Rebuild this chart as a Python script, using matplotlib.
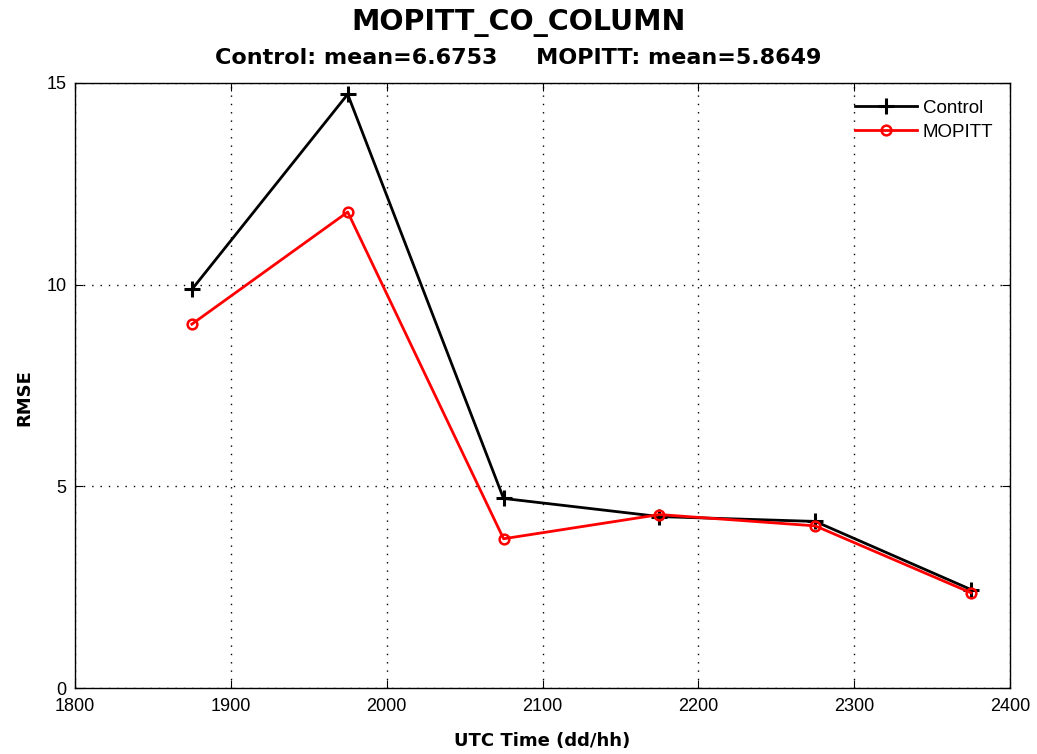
import matplotlib
matplotlib.use("Agg")
import matplotlib.pyplot as plt

# hours (ddhh) and RMSE values
times = [1875, 1975, 2075, 2175, 2275, 2375]
control = [9.88, 14.72, 4.70, 4.25, 4.13, 2.44]
mopitt = [9.02, 11.80, 3.70, 4.30, 4.02, 2.36]
control_mean = 6.6753
mopitt_mean = 5.8649

plt.rcParams['font.family'] = ['Liberation Sans', 'DejaVu Sans']

fig = plt.figure(figsize=(10.37, 7.54), dpi=100)
ax = fig.add_axes([0.0723, 0.0875, 0.9017, 0.8025])

ax.plot(times, control, color='black', lw=2, marker='+', ms=11, mew=2.2,
        label='Control')
ax.plot(times, mopitt, color='red', lw=2, marker='o', ms=7, mew=1.8,
        mfc='none', label='MOPITT')

ax.set_xlim(1800, 2400)
ax.set_ylim(0, 15)
ax.set_xticks(range(1800, 2401, 100))
ax.set_yticks([0, 5, 10, 15])
ax.grid(True, color='black', linestyle=(0, (1, 5)), lw=1)
ax.tick_params(direction='in', top=True, right=True, length=6,
               labelsize=13)
ax.tick_params(axis='y', pad=6)
ax.tick_params(axis='x', pad=7)
for s in ax.spines.values():
    s.set_linewidth(1)

ax.set_xlabel('UTC Time (dd/hh)', fontsize=13, fontweight='bold',
              family='DejaVu Sans')
ax.xaxis.set_label_coords(0.5, -0.073)
ax.set_ylabel('RMSE', fontsize=13, fontweight='bold', family='DejaVu Sans')
ax.yaxis.set_label_coords(-0.045, 0.48)

# two-line title, first line a bit larger
fig.text(0.5, 0.969, 'MOPITT_CO_COLUMN', ha='center', va='center',
         fontsize=20.5, fontweight='bold', family='DejaVu Sans')
fig.text(0.5, 0.923, 'Control: mean=%.4f     MOPITT: mean=%.4f'
         % (control_mean, mopitt_mean), ha='center', va='center',
         fontsize=16, fontweight='bold', family='DejaVu Sans')

ax.legend(loc='upper right', frameon=False, fontsize=13.5, handlelength=3.3,
          handletextpad=0.3, borderaxespad=0.5, labelspacing=0.35)

fig.savefig('out.png', dpi=100)
